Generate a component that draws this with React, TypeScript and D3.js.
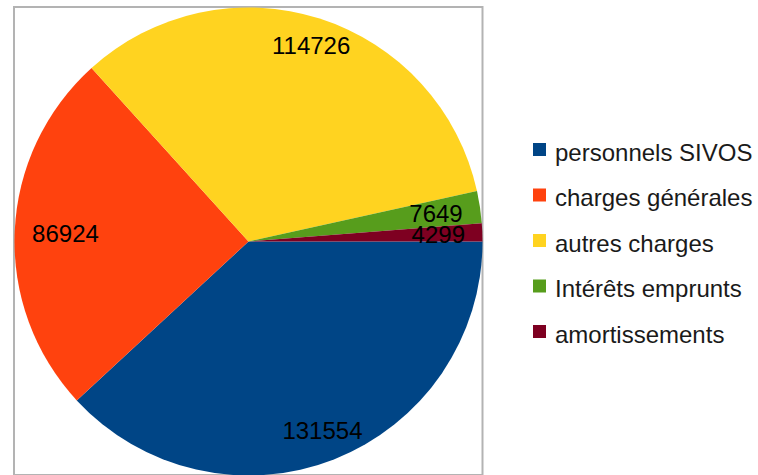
import React from "react";
import * as d3 from "d3";

const categories = [
  "personnels SIVOS",
  "charges générales",
  "autres charges",
  "Intérêts emprunts",
  "amortissements",
];
const values = [131554, 86924, 114726, 7649, 4299];
const colors = ["#004586", "#ff420e", "#ffd320", "#579d1c", "#7e0021"];

const W = 758;
const H = 475;
const cx = 248.5;
const cy = 241.5;
const r = 234;
const FONT = "'Liberation Sans', Arial, sans-serif";
const labelSize = 24;
const legendSize = 24;

export default function App() {
  const pie = d3
    .pie<number>()
    .sort(null)
    .value((d) => d)
    .startAngle(Math.PI / 2)
    .endAngle(Math.PI / 2 + 2 * Math.PI);
  const arcs = pie(values);
  const arc = d3.arc<d3.PieArcDatum<number>>().innerRadius(0).outerRadius(r);

  // label placement: box fitted inside the circle along the mid-angle
  const R = r + 8.4;
  const padX = 25;
  const digitW = 13.5;
  const hh = 9.5;
  const labelPos = arcs.map((a) => {
    const mid = (a.startAngle + a.endAngle) / 2;
    const ux = Math.sin(mid);
    const uy = -Math.cos(mid);
    const hw = (String(a.data).length * digitW) / 2 + padX;
    const A = Math.abs(ux);
    const B = Math.abs(uy);
    const k = A * hw + B * hh;
    const d = -k + Math.sqrt(k * k - (hw * hw + hh * hh - R * R));
    return [cx + ux * d, cy + uy * d];
  });

  const legendY = d3
    .scalePoint<string>()
    .domain(categories)
    .range([149.5, 331.5]);

  return (
    <svg
      width={W}
      height={H}
      style={{ position: "absolute", left: 0, top: 0, background: "#fff" }}
    >
      <rect x={0} y={0} width={W} height={H} fill="#ffffff" />
      <rect
        x={14}
        y={7}
        width={468.5}
        height={468}
        fill="none"
        stroke="#b3b3b3"
        strokeWidth={2}
      />
      <g transform={`translate(${cx},${cy})`}>
        {arcs.map((a, i) => (
          <path key={i} d={arc(a) || ""} fill={colors[i]} />
        ))}
      </g>
      {arcs.map((a, i) => (
        <text
          key={i}
          x={labelPos[i][0]}
          y={labelPos[i][1] + 8.5}
          textAnchor="middle"
          fontFamily={FONT}
          fontSize={labelSize}
          fill="#000"
        >
          {a.data}
        </text>
      ))}
      {categories.map((c, i) => (
        <g key={c}>
          <rect
            x={533}
            y={(legendY(c) as number) - 6.5}
            width={13}
            height={13}
            fill={colors[i]}
          />
          <text
            x={555}
            y={(legendY(c) as number) + 11}
            fontFamily={FONT}
            fontSize={legendSize}
            fill="#1a1a1a"
          >
            {c}
          </text>
        </g>
      ))}
    </svg>
  );
}
